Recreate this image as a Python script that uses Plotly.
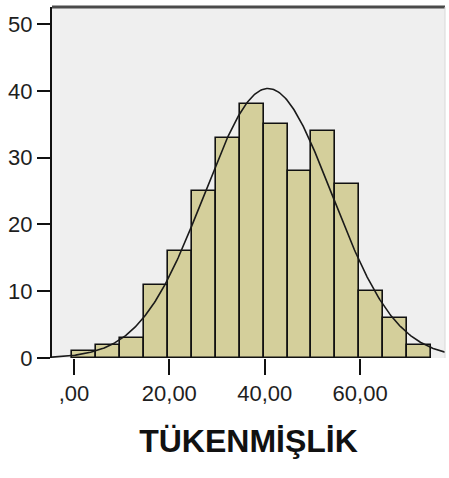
import numpy as np
import plotly.graph_objects as go

# Histogram of TÜKENMİŞLİK scores (SPSS-style frequency histogram with normal curve)
bin_start = -0.4
bin_width = 5.02
counts = [1, 2, 3, 11, 16, 25, 33, 38, 35, 28, 34, 26, 10, 6, 2]

# Normal curve parameters
curve_mean = 40.7
curve_sd = 13.4

x_tickvals = [0, 20, 40, 60]
x_ticktext = [",00", "20,00", "40,00", "60,00"]
y_tickvals = [0, 10, 20, 30, 40, 50]
y_ticktext = ["0", "10", "20", "30", "40", "50"]

x_range = [-4.6, 77.8]
y_range = [0, 52.55]

n_total = sum(counts)
centers = [bin_start + bin_width * (i + 0.5) for i in range(len(counts))]

xs = np.linspace(x_range[0], x_range[1], 400)
ys = n_total * bin_width / (curve_sd * np.sqrt(2 * np.pi)) * np.exp(-0.5 * ((xs - curve_mean) / curve_sd) ** 2)

fig = go.Figure()
fig.add_trace(go.Bar(
    x=centers, y=counts, width=bin_width,
    marker=dict(color="#d4cf9b", line=dict(color="#111111", width=1.6)),
    hoverinfo="skip",
))
fig.add_trace(go.Scatter(
    x=xs, y=ys, mode="lines",
    line=dict(color="#1a1a1a", width=1.6),
    hoverinfo="skip",
))

tick_font = dict(family="Liberation Sans, Arial", size=22, color="#1e1e1e")

fig.update_layout(
    width=449, height=478,
    margin=dict(l=52, r=4, t=7, b=120),
    paper_bgcolor="white",
    plot_bgcolor="#efefef",
    showlegend=False,
    bargap=0,
    xaxis=dict(
        range=x_range, tickvals=x_tickvals, ticktext=x_ticktext,
        showgrid=False, zeroline=False, showline=False,
        ticks="outside", ticklen=16, tickwidth=2, tickcolor="#111111",
        tickfont=tick_font,
        title=dict(text="<b>TÜKENMİŞLİK</b>", standoff=24,
                   font=dict(family="Liberation Sans, Arial", size=32, color="#111111")),
    ),
    yaxis=dict(
        range=y_range, tickvals=y_tickvals, ticktext=y_ticktext,
        showgrid=False, zeroline=False,
        showline=True, linecolor="#111111", linewidth=2,
        ticks="outside", ticklen=13, tickwidth=2, tickcolor="#111111",
        tickfont=tick_font,
    ),
    shapes=[
        dict(type="line", xref="paper", yref="paper", x0=0, x1=1, y0=1, y1=1,
             line=dict(color="#4a4a4a", width=3)),
        dict(type="line", xref="paper", yref="paper", x0=1, x1=1, y0=0, y1=1,
             line=dict(color="#d8d8d8", width=1)),
    ],
)

fig.write_html("out.html")
